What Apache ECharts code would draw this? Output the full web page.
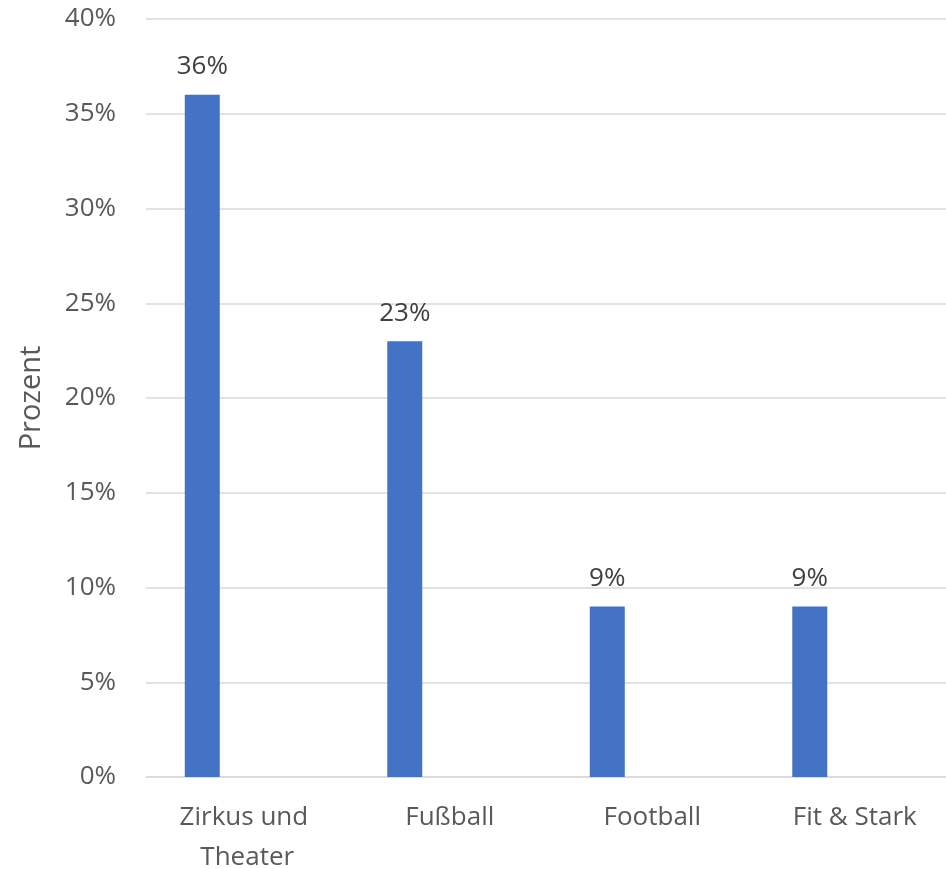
<!DOCTYPE html>
<html>
<head>
<meta charset="utf-8">
<script src="https://cdn.jsdelivr.net/npm/echarts@6/dist/echarts.min.js"></script>
<style>html,body{margin:0;padding:0;background:#fff;}#c{width:946px;height:869px;}</style>
</head>
<body>
<div id="c"></div>
<script>
const categories = ['Zirkus und Theater', 'Fußball', 'Football', 'Fit & Stark'];
const values = [36, 23, 9, 9];
const emptySeries = [null, null, null, null];
const yTicks = { min: 0, max: 40, interval: 5 };
const axisTitle = 'Prozent';

const FONT = 'Open Sans';
const chart = echarts.init(document.getElementById('c'), null, { renderer: 'canvas' });
chart.setOption({
  animation: false,
  backgroundColor: '#fff',
  grid: { left: 146, top: 19, width: 810, height: 758, containLabel: false, outerBoundsMode: 'none' },
  xAxis: {
    type: 'category',
    data: categories,
    axisLine: { show: true, lineStyle: { color: '#d9d9d9', width: 1.5 } },
    axisTick: { show: false },
    axisLabel: {
      color: '#595959', fontFamily: FONT, fontSize: 26, margin: 21,
      lineHeight: 40, width: 170, overflow: 'break', interval: 0
    }
  },
  yAxis: {
    type: 'value',
    min: yTicks.min, max: yTicks.max, interval: yTicks.interval,
    name: axisTitle, nameLocation: 'middle', nameRotate: 90, nameGap: 100,
    nameTextStyle: { color: '#595959', fontFamily: FONT, fontSize: 29 },
    axisLine: { show: false },
    axisTick: { show: false },
    splitLine: { lineStyle: { color: '#d9d9d9', width: 1.5 } },
    axisLabel: { color: '#595959', fontFamily: FONT, fontSize: 26, margin: 30, formatter: v => v + '%' }
  },
  series: [
    {
      type: 'bar', data: values, barWidth: 35, barGap: '157%',
      itemStyle: { color: '#4472C4' },
      label: { show: true, position: 'top', distance: 15, color: '#404040', fontFamily: FONT, fontSize: 26, formatter: p => p.value + '%' }
    },
    { type: 'bar', data: emptySeries, barWidth: 35, itemStyle: { color: '#ED7D31' } }
  ]
});
</script>
</body>
</html>
